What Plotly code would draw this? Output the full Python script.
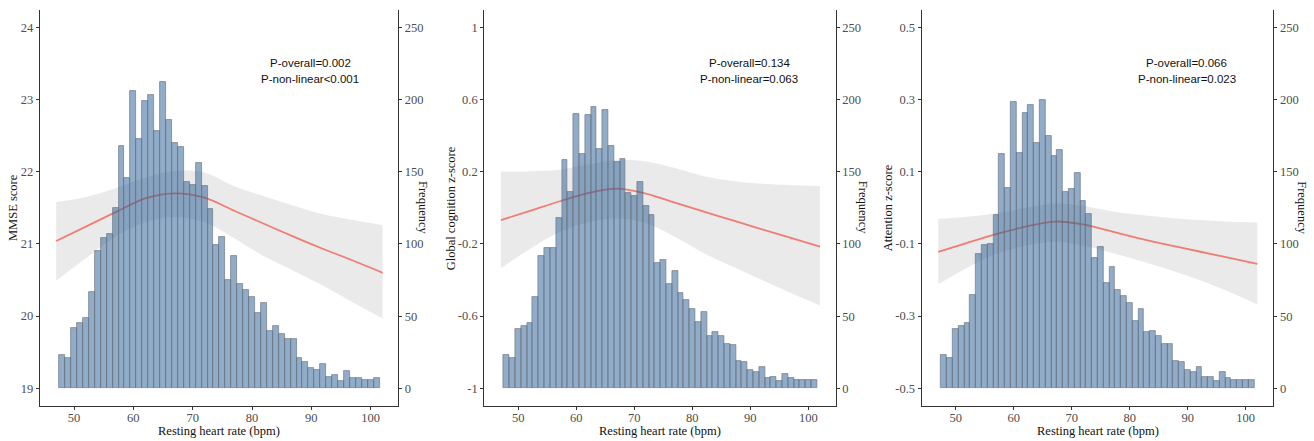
import plotly.graph_objects as go

# ---------------- data ----------------
hr_bins = list(range(48, 102))  # bin centres, width 1 bpm

freq_mmse = [23, 21, 42, 45, 49, 67, 95, 104, 107, 125, 168, 146, 206, 173, 199, 203, 178, 212,
             186, 170, 167, 143, 141, 156, 140, 124, 99, 105, 75, 92, 72, 68, 63, 52, 59, 40, 43,
             38, 34, 34, 21, 18, 14, 13, 17, 8, 9, 5, 12, 7, 7, 6, 6, 7]
freq_global = [23, 21, 41, 43, 45, 63, 92, 97, 97, 118, 158, 136, 190, 162, 189, 195, 166, 193,
               168, 157, 159, 135, 133, 143, 126, 120, 87, 89, 72, 81, 66, 61, 55, 46, 53, 36, 39,
               36, 31, 30, 19, 18, 13, 11, 15, 7, 8, 5, 10, 7, 6, 6, 6, 6]
freq_attn = [23, 21, 41, 43, 45, 65, 93, 99, 100, 120, 162, 139, 198, 163, 191, 196, 170, 200,
             175, 161, 165, 136, 138, 149, 130, 121, 90, 98, 73, 84, 68, 64, 59, 47, 55, 39, 40,
             36, 31, 31, 19, 18, 13, 11, 15, 8, 8, 5, 11, 7, 6, 6, 6, 6]

curve_x = [47, 52, 57, 62, 67, 72, 77, 82, 87, 92, 97, 102]

fit_mmse = [21.04, 21.24, 21.44, 21.63, 21.70, 21.64, 21.46, 21.28, 21.10, 20.93, 20.77, 20.60]
hi_mmse = [21.58, 21.65, 21.77, 21.92, 22.01, 21.99, 21.80, 21.66, 21.53, 21.41, 21.33, 21.26]
lo_mmse = [20.49, 20.80, 21.10, 21.30, 21.37, 21.30, 21.08, 20.83, 20.63, 20.42, 20.19, 19.97]

fit_global = [-0.068, -0.017, 0.035, 0.082, 0.106, 0.079, 0.029, -0.021, -0.070, -0.119, -0.167, -0.215]
hi_global = [0.200, 0.203, 0.211, 0.240, 0.265, 0.256, 0.220, 0.175, 0.149, 0.133, 0.126, 0.121]
lo_global = [-0.335, -0.228, -0.135, -0.080, -0.058, -0.085, -0.160, -0.252, -0.327, -0.400, -0.472, -0.541]

fit_attn = [-0.122, -0.097, -0.073, -0.052, -0.038, -0.046, -0.066, -0.086, -0.104, -0.121, -0.138, -0.155]
hi_attn = [-0.031, -0.025, -0.015, 0.000, 0.012, 0.005, -0.010, -0.020, -0.028, -0.034, -0.038, -0.041]
lo_attn = [-0.212, -0.166, -0.128, -0.105, -0.094, -0.105, -0.125, -0.148, -0.172, -0.200, -0.232, -0.268]

y_titles = ["MMSE score", "Global cognition z-score", "Attention z-score"]
y_ticks = [[19, 20, 21, 22, 23, 24],
           [-1, -0.6, -0.2, 0.2, 0.6, 1],
           [-0.5, -0.3, -0.1, 0.1, 0.3, 0.5]]
y_ticktext = [["19", "20", "21", "22", "23", "24"],
              ["-1", "-0.6", "-0.2", "0.2", "0.6", "1"],
              ["-0.5", "-0.3", "-0.1", "0.1", "0.3", "0.5"]]
y_ranges = [[18.755, 24.24], [-1.098, 1.096], [-0.549, 0.548]]
p_overall = ["P-overall=0.002", "P-overall=0.134", "P-overall=0.066"]
p_nonlin = ["P-non-linear<0.001", "P-non-linear=0.063", "P-non-linear=0.023"]
x_ticks = [50, 60, 70, 80, 90, 100]
freq_ticks = [0, 50, 100, 150, 200, 250]

# ---------------- style ----------------
W, H = 1314, 441
SERIF = "Liberation Serif, Times New Roman, serif"
SANS = "Liberation Sans, Arial, sans-serif"
AXIS_COL = "#333333"
TICK_COL = "#4d4d4d"
BAR_FILL = "rgba(45,95,150,0.52)"
BAR_LINE = "rgba(105,112,122,0.8)"
RIBBON = "rgba(150,150,150,0.2)"
LINE_COL = "#ef7d72"

x_domains = [[40 / W, 398 / W], [484.3 / W, 835.7 / W], [921.7 / W, 1273.3 / W]]
x_ranges = [[44.27, 104.6], [44.14, 104.72], [44.14, 104.76]]
y_domain = [(H - 406) / H, (H - 10) / H]
freq_range = [-12.2, 262.0]
left_title_off = [27, 33, 33.5]
right_title_off = [25, 27.5, 28.5]

freqs = [freq_mmse, freq_global, freq_attn]
fits = [fit_mmse, fit_global, fit_attn]
his = [hi_mmse, hi_global, hi_attn]
los = [lo_mmse, lo_global, lo_attn]

fig = go.Figure()
annotations = []
layout = {}

for i in range(3):
    xa = "x" if i == 0 else f"x{i + 1}"
    ya_left = "y" if i == 0 else f"y{2 * i + 1}"
    ya_right = f"y{2 * i + 2}"

    # ribbon
    fig.add_trace(go.Scatter(x=curve_x, y=los[i], mode="lines", line=dict(width=0, shape="spline"),
                             xaxis=xa, yaxis=ya_left, showlegend=False, hoverinfo="skip"))
    fig.add_trace(go.Scatter(x=curve_x, y=his[i], mode="lines", line=dict(width=0, shape="spline"),
                             fill="tonexty", fillcolor=RIBBON,
                             xaxis=xa, yaxis=ya_left, showlegend=False, hoverinfo="skip"))
    # fitted line
    fig.add_trace(go.Scatter(x=curve_x, y=fits[i], mode="lines",
                             line=dict(color=LINE_COL, width=1.8, shape="spline", smoothing=0.8),
                             xaxis=xa, yaxis=ya_left, showlegend=False))
    # histogram (secondary axis, drawn on top)
    fig.add_trace(go.Bar(x=hr_bins, y=freqs[i], width=1.0,
                         marker=dict(color=BAR_FILL, line=dict(color=BAR_LINE, width=0.8)),
                         xaxis=xa, yaxis=ya_right, showlegend=False))

    xkey = "xaxis" if i == 0 else f"xaxis{i + 1}"
    ylkey = "yaxis" if i == 0 else f"yaxis{2 * i + 1}"
    yrkey = f"yaxis{2 * i + 2}"

    common = dict(showline=True, linecolor=AXIS_COL, linewidth=1.3, ticks="outside",
                  ticklen=3, tickwidth=1, tickcolor=AXIS_COL, showgrid=False, zeroline=False,
                  tickfont=dict(family=SERIF, size=12.5, color=TICK_COL), fixedrange=True)

    layout[xkey] = dict(domain=x_domains[i], range=x_ranges[i], anchor=ya_left,
                        tickmode="array", tickvals=x_ticks, ticklabelstandoff=-3, **common)
    layout[ylkey] = dict(domain=y_domain, range=y_ranges[i], anchor=xa, side="left",
                         tickmode="array", tickvals=y_ticks[i], ticktext=y_ticktext[i], **common)
    layout[yrkey] = dict(domain=y_domain, range=freq_range, anchor=xa, side="right",
                         overlaying=ya_left, tickmode="array", tickvals=freq_ticks, **common)

    x0, x1 = x_domains[i][0] * W, x_domains[i][1] * W
    xmid = (x0 + x1) / 2
    # axis titles
    annotations.append(dict(text="Resting heart rate (bpm)", x=xmid / W, y=(H - 431) / H,
                            xref="paper", yref="paper", showarrow=False,
                            font=dict(family=SERIF, size=12.5, color="#111111"),
                            xanchor="center", yanchor="middle"))
    annotations.append(dict(text=y_titles[i], x=(x0 - left_title_off[i]) / W, y=(H - 208) / H,
                            xref="paper", yref="paper", showarrow=False, textangle=-90,
                            font=dict(family=SERIF, size=12.5, color="#111111"),
                            xanchor="center", yanchor="middle"))
    annotations.append(dict(text="Frequency", x=(x1 + right_title_off[i]) / W, y=(H - 208) / H,
                            xref="paper", yref="paper", showarrow=False, textangle=90,
                            font=dict(family=SERIF, size=12.5, color="#111111"),
                            xanchor="center", yanchor="middle"))
    # p-values
    annotations.append(dict(text=p_overall[i], x=89.8, y=(H - 63) / H, xref=xa, yref="paper",
                            showarrow=False, font=dict(family=SANS, size=11.5, color="#111111"),
                            xanchor="center", yanchor="middle"))
    annotations.append(dict(text=p_nonlin[i], x=89.8, y=(H - 79) / H, xref=xa, yref="paper",
                            showarrow=False, font=dict(family=SANS, size=11.5, color="#111111"),
                            xanchor="center", yanchor="middle"))

fig.update_layout(width=W, height=H, margin=dict(l=0, r=0, t=0, b=0),
                  paper_bgcolor="white", plot_bgcolor="white", bargap=0,
                  barmode="overlay", annotations=annotations, **layout)

fig.write_html("out.html", config={"displayModeBar": False},
               post_script="document.body.style.margin='0';document.body.style.padding='0';")
